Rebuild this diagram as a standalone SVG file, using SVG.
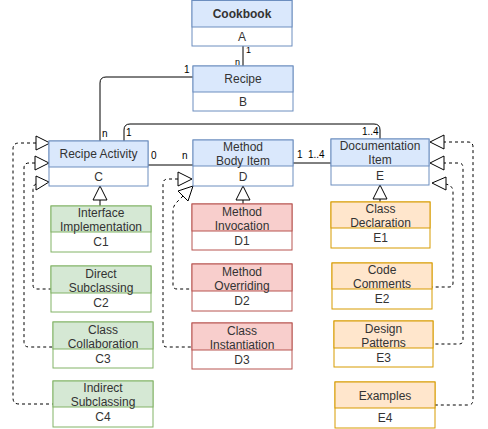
<svg xmlns="http://www.w3.org/2000/svg" width="488" height="429" viewBox="0 0 488 429">
<defs>
<style>
text{font-family:"Liberation Sans",Arial,Helvetica,sans-serif;}
.t{font-size:12px;fill:#333;text-anchor:middle;}
.b{font-weight:bold;}
.l{font-size:10px;fill:#000;}
.body{fill:#fff;}
.blue{fill:#dae8fc;stroke:#6c8ebf;}
.green{fill:#d5e8d4;stroke:#82b366;}
.red{fill:#f8cecc;stroke:#b85450;}
.orange{fill:#ffe6cc;stroke:#d79b00;}
.box rect,.box line{stroke-width:1;}
.c{fill:none;stroke:#000;stroke-width:1;}
.d{fill:none;stroke:#000;stroke-width:1;stroke-dasharray:3 3;}
.tri{fill:#fff;stroke:#000;stroke-width:1;}
</style>
</defs>
<rect width="488" height="429" fill="#fff"/>

<g id="connectors">
<path class="c" d="M243,46 L243,66"/>
<path class="c" d="M193,77 L106,77 Q100,77 100,83 L100,141"/>
<path class="c" d="M124,141 L124,130 Q124,124 130,124 L374,124 Q380,124 380,130 L380,139"/>
<path class="c" d="M148,165 L193,165"/>
<path class="c" d="M293,163 L331,163"/>
<path class="c" d="M100,200 L100,206"/>
<path class="c" d="M243,200 L243,204"/>
<path class="c" d="M380,199 L380,202"/>
<polygon class="tri" points="100,186 93,200 107,200"/>
<polygon class="tri" points="243,186 236,200 250,200"/>
<polygon class="tri" points="380,185 373,199 387,199"/>
<!-- C dashed -->
<path class="d" d="M36,143 L19,143 Q13,143 13,149 L13,398 Q13,404 19,404 L53,404"/>
<path class="d" d="M35,163 L29,163 Q24,163 24,168 L24,342 Q24,347 29,347 L53,347"/>
<path class="d" d="M36,184 Q33,185 33,190 L33,285 Q33,289 37,289 L51,289"/>
<polygon class="tri" points="50,143 36,136 36,150"/>
<polygon class="tri" points="49,163 35,156 35,170"/>
<polygon class="tri" points="49,182 36,176 36,190"/>
<!-- D dashed -->
<path class="d" d="M178,179 L168,179 Q163,179 163,184 L163,343 Q163,347 167,347 L192,347"/>
<path class="d" d="M183,196 L177,202 Q173,206 173,211 L173,285 Q173,289 177,289 L192,289"/>
<polygon class="tri" points="192,179 178,172 178,186"/>
<polygon class="tri" points="193,186 178,191 188,201"/>
<!-- E dashed -->
<path class="d" d="M443,142 L468,142 Q473,142 473,147 L473,400 Q473,405 468,405 L435,405"/>
<path class="d" d="M443,163 L459,163 Q463,163 463,168 L463,340 Q463,344 459,344 L433,344"/>
<path class="d" d="M445,184 Q453,185 453,192 L453,283 Q453,287 449,287 L432,287"/>
<polygon class="tri" points="430,142 444,135 444,149"/>
<polygon class="tri" points="430,163 444,156 444,170"/>
<polygon class="tri" points="432,183 446,177 446,190"/>
<!-- labels -->
<text class="l" x="246" y="53" style="font-size:9px">1</text>
<rect x="234" y="57" width="8" height="8" fill="#fff"/>
<text class="l" x="235" y="65" style="font-size:9px">n</text>
<text class="l" x="184" y="73">1</text>
<text class="l" x="102" y="137">n</text>
<text class="l" x="126" y="136">1</text>
<text class="l" x="362" y="135">1..4</text>
<text class="l" x="151" y="159">0</text>
<text class="l" x="182" y="159">n</text>
<text class="l" x="297" y="158">1</text>
<text class="l" x="308" y="158">1..4</text>
</g>

<g id="A" class="box">
<rect class="body" x="192" y="0.5" width="100" height="45.5" stroke="#6c8ebf"/>
<rect class="blue" x="192" y="0.5" width="100" height="26.5"/>
<text class="t b" x="242" y="18">Cookbook</text>
<text class="t" x="242" y="41">A</text>
</g>
<g id="B" class="box">
<rect class="body" x="193" y="66" width="100" height="45" stroke="#6c8ebf"/>
<rect class="blue" x="193" y="66" width="100" height="26"/>
<text class="t" x="243" y="83">Recipe</text>
<text class="t" x="243" y="106">B</text>
</g>
<g id="C" class="box">
<rect class="body" x="49" y="141" width="99" height="45" stroke="#6c8ebf"/>
<rect class="blue" x="49" y="141" width="99" height="26"/>
<text class="t" x="98.5" y="158">Recipe Activity</text>
<text class="t" x="98.5" y="181">C</text>
</g>
<g id="C1" class="box">
<rect class="body" x="51" y="206" width="100" height="46" stroke="#82b366"/>
<rect class="green" x="51" y="206" width="100" height="26"/>
<text class="t" x="101" y="217">Interface</text>
<text class="t" x="101" y="231">Implementation</text>
<text class="t" x="101" y="246">C1</text>
</g>
<g id="C2" class="box">
<rect class="body" x="51" y="266" width="100" height="46" stroke="#82b366"/>
<rect class="green" x="51" y="266" width="100" height="27"/>
<text class="t" x="101" y="278">Direct</text>
<text class="t" x="101" y="292">Subclassing</text>
<text class="t" x="101" y="307">C2</text>
</g>
<g id="C3" class="box">
<rect class="body" x="53" y="322" width="100" height="46" stroke="#82b366"/>
<rect class="green" x="53" y="322" width="100" height="27"/>
<text class="t" x="103" y="334">Class</text>
<text class="t" x="103" y="348">Collaboration</text>
<text class="t" x="103" y="363">C3</text>
</g>
<g id="C4" class="box">
<rect class="body" x="53" y="381" width="100" height="46" stroke="#82b366"/>
<rect class="green" x="53" y="381" width="100" height="26"/>
<text class="t" x="103" y="392">Indirect</text>
<text class="t" x="103" y="406">Subclassing</text>
<text class="t" x="103" y="421">C4</text>
</g>
<g id="D" class="box">
<rect class="body" x="193" y="140" width="100" height="46" stroke="#6c8ebf"/>
<rect class="blue" x="193" y="140" width="100" height="26"/>
<text class="t" x="243" y="151">Method</text>
<text class="t" x="243" y="165">Body Item</text>
<text class="t" x="243" y="181">D</text>
</g>
<g id="D1" class="box">
<rect class="body" x="192" y="204" width="100" height="46" stroke="#b85450"/>
<rect class="red" x="192" y="204" width="100" height="27"/>
<text class="t" x="242" y="216">Method</text>
<text class="t" x="242" y="230">Invocation</text>
<text class="t" x="242" y="245">D1</text>
</g>
<g id="D2" class="box">
<rect class="body" x="192" y="264" width="100" height="47" stroke="#b85450"/>
<rect class="red" x="192" y="264" width="100" height="27"/>
<text class="t" x="242" y="276">Method</text>
<text class="t" x="242" y="290">Overriding</text>
<text class="t" x="242" y="305">D2</text>
</g>
<g id="D3" class="box">
<rect class="body" x="192" y="323" width="100" height="46" stroke="#b85450"/>
<rect class="red" x="192" y="323" width="100" height="27"/>
<text class="t" x="242" y="335">Class</text>
<text class="t" x="242" y="349">Instantiation</text>
<text class="t" x="242" y="364">D3</text>
</g>
<g id="E" class="box">
<rect class="body" x="331" y="139" width="98" height="46" stroke="#6c8ebf"/>
<rect class="blue" x="331" y="139" width="98" height="27"/>
<text class="t" x="380" y="150">Documentation</text>
<text class="t" x="380" y="164">Item</text>
<text class="t" x="380" y="180">E</text>
</g>
<g id="E1" class="box">
<rect class="body" x="331" y="202" width="99" height="46" stroke="#d79b00"/>
<rect class="orange" x="331" y="202" width="99" height="26"/>
<text class="t" x="380.5" y="213">Class</text>
<text class="t" x="380.5" y="227">Declaration</text>
<text class="t" x="380.5" y="242">E1</text>
</g>
<g id="E2" class="box">
<rect class="body" x="332" y="263" width="100" height="46" stroke="#d79b00"/>
<rect class="orange" x="332" y="263" width="100" height="26"/>
<text class="t" x="382" y="274">Code</text>
<text class="t" x="382" y="288">Comments</text>
<text class="t" x="382" y="303">E2</text>
</g>
<g id="E3" class="box">
<rect class="body" x="334" y="321" width="99" height="46" stroke="#d79b00"/>
<rect class="orange" x="334" y="321" width="99" height="27"/>
<text class="t" x="383.5" y="333">Design</text>
<text class="t" x="383.5" y="347">Patterns</text>
<text class="t" x="383.5" y="362">E3</text>
</g>
<g id="E4" class="box">
<rect class="body" x="335" y="382" width="100" height="46" stroke="#d79b00"/>
<rect class="orange" x="335" y="382" width="100" height="26"/>
<text class="t" x="385" y="400">Examples</text>
<text class="t" x="385" y="422">E4</text>
</g>
</svg>
